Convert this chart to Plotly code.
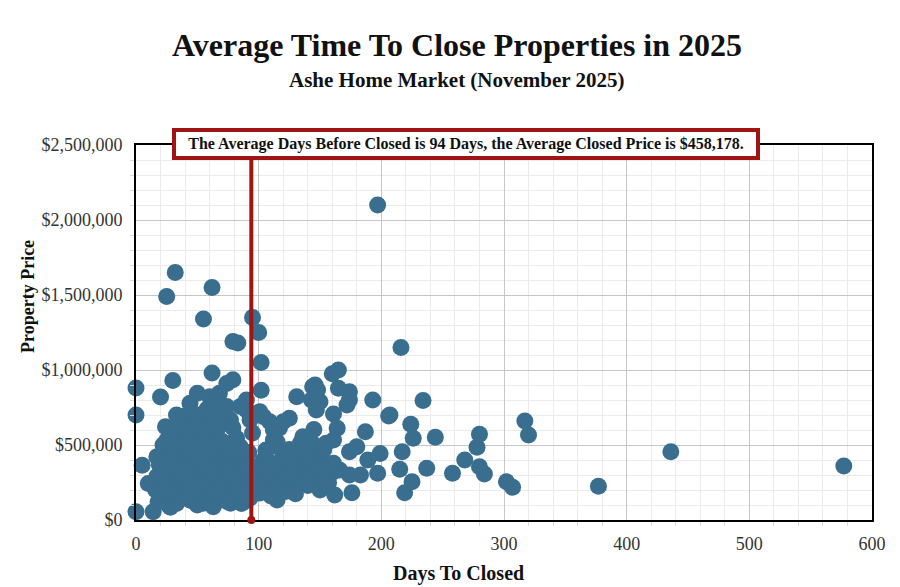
import plotly.graph_objects as go

# ---- data (days to close, closed price) ----
days = [
    197, 32, 25, 62, 55, 95, 100, 79, 83, 102, 216, 165, 160, 62, 30, 79, 74, 0, 20, 102,
    50, 60, 68, 0, 5, 0, 14, 436, 577, 377, 317, 320, 280, 278, 280, 284, 302, 307, 258, 268,
    234, 244, 224, 226, 217, 215, 237, 225, 219, 207, 193, 206, 199, 197, 189, 187, 180, 174, 174, 183,
    176, 162, 166, 161, 161, 174, 165, 131, 144, 146, 148, 143, 150, 147, 174, 172, 161, 164, 145, 136,
    161, 155, 125, 109, 117, 95, 90, 101, 90, 112, 115, 126, 132, 139, 150, 147, 134, 142, 112, 120,
    153, 158, 150, 136, 142, 128, 109, 117, 123, 104, 98, 106, 85, 90, 93, 115, 101, 88, 10, 17,
    22, 24, 33, 43, 44, 66, 74, 77, 85, 88, 82, 85, 93, 98, 104, 22, 28, 44, 55, 63,
    74, 77,
    18, 22, 27, 33, 38, 45, 50, 57, 63, 68, 74, 80, 86, 91,
    16, 21, 26, 31, 36, 42, 47, 52, 58, 64, 69, 75, 81, 88, 93, 97,
    17, 23, 28, 34, 39, 44, 49, 54, 60, 66, 71, 77, 83, 89, 95, 99,
    19, 24, 29, 35, 40, 46, 51, 56, 62, 67, 72, 78, 84, 90, 96,
    22, 27, 32, 37, 43, 48, 53, 58, 63, 68, 73, 79, 85, 92,
    25, 30, 36, 41, 47, 53, 59, 64, 70, 76, 82,
    28, 35, 42, 48, 55, 61, 66, 72, 79,
    38, 45, 52, 58, 64, 70,
    104, 108, 112, 118, 122, 127, 133, 138, 143, 148, 153, 157, 110, 120, 130, 140, 106, 115, 125, 135,
    145, 110, 122, 130, 140, 150,
]
prices = [
    2100000, 1650000, 1490000, 1550000, 1340000, 1350000, 1250000, 1190000, 1180000, 1050000,
    1150000, 1000000, 975000, 980000, 930000, 935000, 910000, 880000, 820000, 865000,
    845000, 822000, 845000, 700000, 365000, 55000, 55000, 455000, 360000, 225000,
    660000, 567000, 571000, 485000, 355000, 307000, 255000, 218000, 311000, 400000,
    796000, 551000, 638000, 545000, 455000, 338000, 345000, 255000, 182000, 700000,
    800000, 693000, 444000, 311000, 400000, 589000, 489000, 455000, 300000, 300000,
    182000, 167000, 333000, 322000, 378000, 855000, 878000, 822000, 889000, 900000,
    867000, 800000, 789000, 733000, 800000, 767000, 707000, 611000, 604000, 555000,
    533000, 511000, 678000, 655000, 613000, 580000, 733000, 722000, 800000, 533000,
    489000, 444000, 422000, 400000, 433000, 378000, 511000, 533000, 600000, 655000,
    467000, 355000, 267000, 267000, 247000, 222000, 267000, 313000, 347000, 400000,
    355000, 467000, 313000, 222000, 147000, 133000, 180000, 122000, 244000, 422000,
    500000, 622000, 700000, 690000, 778000, 778000, 756000, 667000, 489000, 355000,
    200000, 756000, 667000, 711000, 689000, 133000, 85000, 133000, 111000, 89000,
    133000, 111000,
    120000, 140000, 95000, 110000, 150000, 130000, 100000, 140000, 105000, 150000, 125000, 160000, 110000, 140000,
    200000, 230000, 180000, 210000, 240000, 190000, 220000, 200000, 235000, 185000, 215000, 240000, 195000, 225000, 205000, 180000,
    290000, 260000, 300000, 270000, 310000, 280000, 255000, 295000, 270000, 305000, 265000, 290000, 275000, 300000, 260000, 290000,
    370000, 340000, 390000, 350000, 380000, 345000, 385000, 360000, 340000, 375000, 395000, 350000, 380000, 360000, 340000,
    430000, 460000, 420000, 470000, 440000, 455000, 420000, 475000, 445000, 430000, 460000, 440000, 470000, 450000,
    530000, 500000, 545000, 510000, 560000, 530000, 505000, 550000, 525000, 510000, 545000,
    600000, 640000, 610000, 650000, 590000, 630000, 600000, 645000, 615000,
    690000, 720000, 700000, 740000, 690000, 720000,
    250000, 300000, 210000, 270000, 330000, 290000, 240000, 320000, 280000, 350000, 300000, 250000,
    380000, 420000, 380000, 400000, 460000, 520000, 470000, 460000,
    500000, 160000, 190000, 175000, 230000, 200000,
]
avg_days = 94
avg_price = 458178

x_ticks = [0, 100, 200, 300, 400, 500, 600]
y_ticks = [0, 500000, 1000000, 1500000, 2000000, 2500000]
y_tick_labels = ["$0", "$500,000", "$1,000,000", "$1,500,000", "$2,000,000", "$2,500,000"]

FONT = "Liberation Serif"
RED = "#a01414"

# page is drawn with an 8px body offset; plot area target: x 136..872, y 145..520
L, R, T, B = 128, 36, 137, 75
PH = 587 - T - B  # 375
PW = 900 - L - R  # 736

fig = go.Figure()
fig.add_trace(go.Scatter(
    x=days, y=prices, mode="markers",
    marker=dict(size=17, color="#396e8f", line=dict(width=0)),
    hoverinfo="skip", showlegend=False, cliponaxis=False,
))
# average line
fig.add_trace(go.Scatter(
    x=[avg_days, avg_days], y=[0, 2500000], mode="lines",
    line=dict(color=RED, width=4), hoverinfo="skip", showlegend=False,
))
fig.add_trace(go.Scatter(
    x=[avg_days], y=[0], mode="markers",
    marker=dict(size=8, color=RED), hoverinfo="skip", showlegend=False, cliponaxis=False,
))

fig.update_layout(
    width=900, height=587,
    paper_bgcolor="white", plot_bgcolor="white",
    margin=dict(l=L, r=R, t=T, b=B, autoexpand=False),
    font=dict(family=FONT, color="#222"),
    title=dict(
        text="<b>Average Time To Close Properties in 2025</b>",
        x=(457 - 8) / 900, xanchor="center", y=1 - (45 - 8) / 587, yanchor="middle",
        font=dict(size=32, family=FONT, color="#111"),
    ),
    xaxis=dict(
        range=[0, 600], tickvals=x_ticks, ticktext=[str(v) for v in x_ticks],
        showgrid=True, gridcolor="#c6c6c6", gridwidth=1,
        minor=dict(dtick=20, showgrid=True, gridcolor="#ebebeb", gridwidth=1,
                   ticks="outside", ticklen=4, tickcolor="#d8d8d8"),
        showline=True, linecolor="black", linewidth=2, mirror=True,
        zeroline=False, ticks="outside", ticklen=6, tickcolor="white",
        tickfont=dict(size=18, color="#333"),
        layer="below traces",
    ),
    yaxis=dict(
        range=[0, 2500000], tickvals=y_ticks, ticktext=y_tick_labels,
        showgrid=True, gridcolor="#c6c6c6", gridwidth=1,
        minor=dict(dtick=100000, showgrid=True, gridcolor="#ebebeb", gridwidth=1,
                   ticks="outside", ticklen=4, tickcolor="#d8d8d8"),
        showline=True, linecolor="black", linewidth=2, mirror=True,
        zeroline=False, ticks="outside", ticklen=8, tickcolor="white",
        tickfont=dict(size=18, color="#333"),
    ),
    annotations=[
        dict(
            text="<b>Ashe Home Market (November 2025)</b>",
            x=(457 - 136) / PW, xref="paper", xanchor="center",
            y=1 + (145 - 80) / PH, yref="paper", yanchor="middle",
            showarrow=False, font=dict(size=21, family=FONT, color="#111"),
        ),
        dict(
            text="<b>Days To Closed</b>",
            x=(458 - 136) / PW, xref="paper", xanchor="center",
            y=-(573 - 520) / PH, yref="paper", yanchor="middle",
            showarrow=False, font=dict(size=20, family=FONT, color="#111"),
        ),
        dict(
            text="<b>Property Price</b>",
            x=(28 - 136) / PW, xref="paper", xanchor="center",
            y=(520 - 296) / PH, yref="paper", yanchor="middle", textangle=-90,
            showarrow=False, font=dict(size=18, family=FONT, color="#111"),
        ),
        dict(
            text="<b>The Average Days Before Closed is %d Days, the Average Closed Price is $%s.</b>"
                 % (avg_days, f"{avg_price:,}"),
            x=(466 - 136) / PW, xref="paper", xanchor="center",
            y=1 + (145 - 143.5) / PH, yref="paper", yanchor="middle",
            showarrow=False, font=dict(size=16, family=FONT, color="#111"),
            width=574, align="center",
            bgcolor="white", bordercolor=RED, borderwidth=4, borderpad=3,
        ),
    ],
)

fig.write_html("out.html")
